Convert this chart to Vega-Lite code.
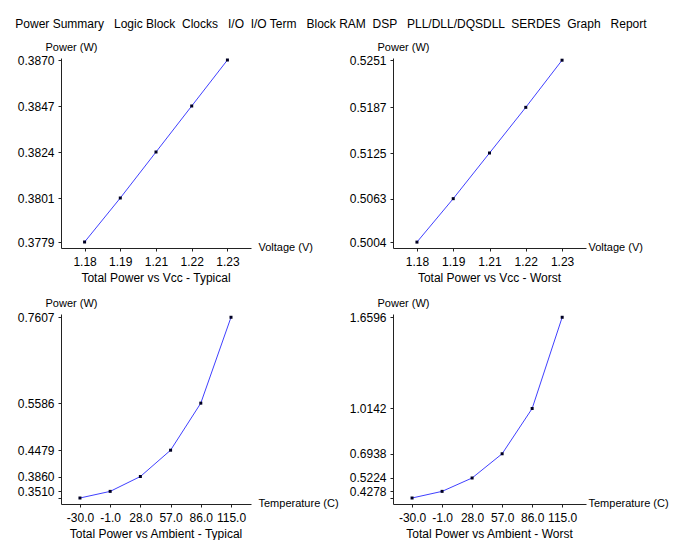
{
  "$schema": "https://vega.github.io/schema/vega-lite/v6.json",
  "background": "white",
  "padding": {"left": 15, "top": 18, "right": 0, "bottom": 0},
  "title": {
    "text": "Power Summary \u00a0\u00a0Logic Block \u00a0Clocks \u00a0\u00a0I/O \u00a0I/O Term \u00a0\u00a0Block RAM \u00a0DSP \u00a0\u00a0PLL/DLL/DQSDLL \u00a0SERDES \u00a0Graph \u00a0\u00a0Report",
    "orient": "top",
    "anchor": "start",
    "frame": "bounds",
    "fontSize": 12,
    "fontWeight": "normal",
    "font": "Liberation Sans",
    "color": "black",
    "offset": 10,
    "dx": -2
  },
  "datasets": {
    "vccTyp": [
      {"v": "1.18", "p": 0.3779},
      {"v": "1.19", "p": 0.3801},
      {"v": "1.21", "p": 0.3824},
      {"v": "1.22", "p": 0.3847},
      {"v": "1.23", "p": 0.3870}
    ],
    "vccWorst": [
      {"v": "1.18", "p": 0.5004},
      {"v": "1.19", "p": 0.5063},
      {"v": "1.21", "p": 0.5125},
      {"v": "1.22", "p": 0.5187},
      {"v": "1.23", "p": 0.5251}
    ],
    "ambTyp": [
      {"t": -30, "p": 0.3354},
      {"t": -1, "p": 0.3510},
      {"t": 28, "p": 0.3860},
      {"t": 57, "p": 0.4479},
      {"t": 86, "p": 0.5586},
      {"t": 115, "p": 0.7607}
    ],
    "ambWorst": [
      {"t": -30, "p": 0.3808},
      {"t": -1, "p": 0.4278},
      {"t": 28, "p": 0.5224},
      {"t": 57, "p": 0.6938},
      {"t": 86, "p": 1.0142},
      {"t": 115, "p": 1.6596}
    ]
  },
  "config": {
    "font": "Liberation Sans",
    "view": {"stroke": null},
    "axis": {
      "grid": false,
      "domainColor": "#222222",
      "tickColor": "#222222",
      "tickSize": 3,
      "labelPadding": 4,
      "labelFontSize": 12,
      "labelColor": "black",
      "labelFont": "Liberation Sans",
      "titleFont": "Liberation Sans",
      "titleFontSize": 11,
      "titleFontWeight": "normal",
      "titleColor": "black",
      "labelOverlap": false
    },
    "axisX": {"labelAngle": 0, "labelPadding": 5, "titleAlign": "left", "titleBaseline": "middle", "titleY": -1},
    "axisY": {"titleAngle": 0, "titleAlign": "center", "titleBaseline": "middle", "titleX": 10, "titleY": -11},
    "title": {"fontSize": 12, "fontWeight": "normal", "color": "black", "orient": "bottom", "offset": 6, "font": "Liberation Sans"},
    "line": {"color": "#4040ff", "strokeWidth": 1},
    "point": {"shape": "square", "size": 9, "filled": true, "color": "#000022", "opacity": 1}
  },
  "columns": 2,
  "spacing": {"row": 66, "column": 142},
  "bounds": "flush",
  "concat": [
    {
      "width": 190, "height": 190,
      "title": "Total Power vs Vcc - Typical",
      "data": {"name": "vccTyp"},
      "encoding": {
        "x": {"field": "v", "type": "ordinal", "scale": {"type": "point", "padding": 0.66},
              "axis": {"title": "Voltage (V)", "titleX": 197}},
        "y": {"field": "p", "type": "quantitative", "scale": {"domain": [0.3776, 0.3871], "zero": false, "nice": false},
              "axis": {"title": "Power (W)", "values": [0.3779, 0.3801, 0.3824, 0.3847, 0.3870], "format": ".4f"}}
      },
      "layer": [{"mark": "line"}, {"mark": "point"}]
    },
    {
      "width": 193, "height": 190,
      "title": "Total Power vs Vcc - Worst",
      "data": {"name": "vccWorst"},
      "encoding": {
        "x": {"field": "v", "type": "ordinal", "scale": {"type": "point", "padding": 0.66},
              "axis": {"title": "Voltage (V)", "titleX": 195}},
        "y": {"field": "p", "type": "quantitative", "scale": {"domain": [0.4996, 0.5254], "zero": false, "nice": false},
              "axis": {"title": "Power (W)", "values": [0.5004, 0.5063, 0.5125, 0.5187, 0.5251], "format": ".4f"}}
      },
      "layer": [{"mark": "line"}, {"mark": "point"}]
    },
    {
      "width": 190, "height": 190,
      "title": "Total Power vs Ambient - Typical",
      "data": {"name": "ambTyp"},
      "encoding": {
        "x": {"field": "t", "type": "quantitative", "scale": {"domain": [-48.2, 134.2], "nice": false, "zero": false},
              "axis": {"title": "Temperature (C)", "titleX": 197, "values": [-30, -1, 28, 57, 86, 115],
                       "labelExpr": "replace(format(datum.value, '.1f'), '−', '-')"}},
        "y": {"field": "p", "type": "quantitative", "scale": {"domain": [0.3213, 0.7684], "zero": false, "nice": false},
              "axis": {"title": "Power (W)", "values": [0.3354, 0.3510, 0.3860, 0.4479, 0.5586, 0.7607],
                       "labelExpr": "datum.value < 0.34 ? '' : format(datum.value, '.4f')"}}
      },
      "layer": [{"mark": "line"}, {"mark": "point"}]
    },
    {
      "width": 193, "height": 190,
      "title": "Total Power vs Ambient - Worst",
      "data": {"name": "ambWorst"},
      "encoding": {
        "x": {"field": "t", "type": "quantitative", "scale": {"domain": [-48.4, 138], "nice": false, "zero": false},
              "axis": {"title": "Temperature (C)", "titleX": 195, "values": [-30, -1, 28, 57, 86, 115],
                       "labelExpr": "replace(format(datum.value, '.1f'), '−', '-')"}},
        "y": {"field": "p", "type": "quantitative", "scale": {"domain": [0.3384, 1.6828], "zero": false, "nice": false},
              "axis": {"title": "Power (W)", "values": [0.3808, 0.4278, 0.5224, 0.6938, 1.0142, 1.6596],
                       "labelExpr": "datum.value < 0.4 ? '' : format(datum.value, '.4f')"}}
      },
      "layer": [{"mark": "line"}, {"mark": "point"}]
    }
  ]
}
